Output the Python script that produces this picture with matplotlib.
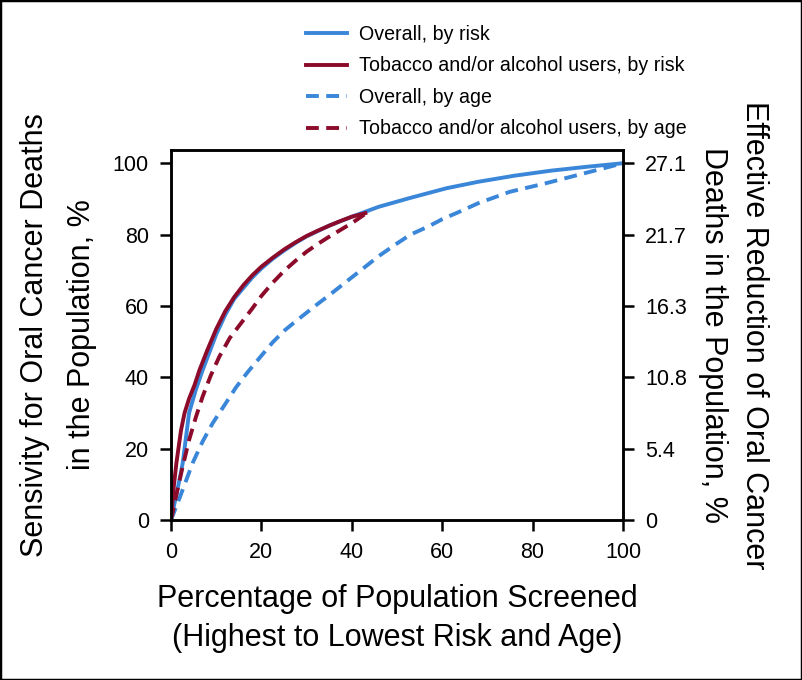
import matplotlib
matplotlib.use("Agg")
import matplotlib.pyplot as plt
from matplotlib.patches import Rectangle

# values
x_overall_risk = [0, 1, 2, 2.6, 3.2, 4, 5.5, 7, 8.5, 10, 12, 14, 16, 18, 20, 22.5, 25, 27.5, 30,
                  35, 40, 46, 53, 61, 68, 76, 84, 92, 100]
y_overall_risk = [0, 6, 12, 16, 22, 30, 36.5, 42, 47, 52, 57.5, 62, 65, 68, 70.5, 73.2, 75.5, 77.6, 79.5,
                  82.5, 85, 87.8, 90.3, 93, 94.8, 96.5, 97.9, 99, 100]

x_users_risk = [0, 0.5, 1.2, 2.2, 3, 4, 5.2, 6.3, 8, 10, 12, 14, 16, 18, 20, 22.5, 25, 27.5, 30,
                32.5, 35, 37.5, 40, 43]
y_users_risk = [0, 8, 16, 25, 30, 34, 37.8, 42, 47.5, 53.5, 58.5, 62.5, 65.8, 68.6, 71, 73.5, 75.8, 77.8, 79.6,
                81.1, 82.5, 83.8, 85, 86]

x_overall_age = [0, 2, 4.8, 7, 9.2, 12, 14.4, 17, 20.3, 22.5, 25, 27.5, 30, 32.5, 35, 37.5, 40, 43, 46,
                 50, 53, 57, 60, 64, 68, 75, 83, 90, 97, 100]
y_overall_age = [0, 6.5, 16, 22, 27.1, 32.5, 37.2, 41.5, 46.5, 49.8, 53, 55.6, 58.1, 60.6, 63, 65.5, 68, 71, 74,
                 77.5, 80, 82.3, 84.3, 86.5, 88.8, 92, 94.4, 96.7, 99, 100]

x_users_age = [0, 1.1, 2.5, 4, 5.5, 7, 8.8, 10.7, 13, 16, 18, 20, 22.5, 25, 27.5, 30, 32.5, 35, 37.5, 40, 43]
y_users_age = [0, 6.5, 14.5, 22.4, 28.8, 34.6, 40.5, 45.8, 51, 56, 59.3, 62.8, 66.5, 69.8, 72.6, 75.2, 77.4,
               79.4, 81.3, 83.2, 85.8]

x_ticks = [0, 20, 40, 60, 80, 100]
y_ticks = [0, 20, 40, 60, 80, 100]
right_tick_labels = ["0", "5.4", "10.8", "16.3", "21.7", "27.1"]

BLUE = "#3a86d9"
RED = "#8c0a2a"

plt.rcParams["font.family"] = ["Liberation Sans", "DejaVu Sans"]

fig = plt.figure(figsize=(8.02, 6.80), dpi=100)
ax = fig.add_axes([0.2132, 0.2353, 0.5636, 0.5441])

lw = 2.8
dash = (3.3, 1.9)
ax.plot(x_overall_risk, y_overall_risk, color=BLUE, lw=lw, label="Overall, by risk")
ax.plot(x_users_risk, y_users_risk, color=RED, lw=lw, label="Tobacco and/or alcohol users, by risk")
ax.plot(x_overall_age, y_overall_age, color=BLUE, lw=lw, dashes=dash, label="Overall, by age")
ax.plot(x_users_age, y_users_age, color=RED, lw=lw, dashes=dash, label="Tobacco and/or alcohol users, by age")

ax.set_xlim(0, 100)
ax.set_ylim(0, 103.7)
ax.set_xticks(x_ticks)
ax.set_yticks(y_ticks)
ax.tick_params(direction="out", length=8, width=1.8, labelsize=15.5, pad=8)
for s in ax.spines.values():
    s.set_linewidth(1.8)

ax2 = ax.twinx()
ax2.set_ylim(ax.get_ylim())
ax2.set_yticks(y_ticks)
ax2.set_yticklabels(right_tick_labels)
ax2.tick_params(direction="out", length=8, width=1.8, labelsize=15.5, pad=8)
for s in ax2.spines.values():
    s.set_linewidth(1.8)

ax.set_xlabel("Percentage of Population Screened\n(Highest to Lowest Risk and Age)",
              fontsize=22, labelpad=15, linespacing=1.4)
ax.set_ylabel("Sensivity for Oral Cancer Deaths\nin the Population, %",
              fontsize=22, labelpad=11, linespacing=1.75)
ax2.set_ylabel("Effective Reduction of Oral Cancer\nDeaths in the Population, %",
               fontsize=22, rotation=270, labelpad=59, linespacing=1.5)

fig.legend(loc="upper left", bbox_to_anchor=(0.372, 0.975), frameon=False,
           fontsize=14.1, handlelength=2.1, handletextpad=0.6, labelspacing=0.64,
           borderaxespad=0)

fig.patches.append(Rectangle((0, 0), 1, 1, transform=fig.transFigure, fill=False,
                             edgecolor="black", linewidth=2.5))

fig.savefig("out.png", dpi=100)
